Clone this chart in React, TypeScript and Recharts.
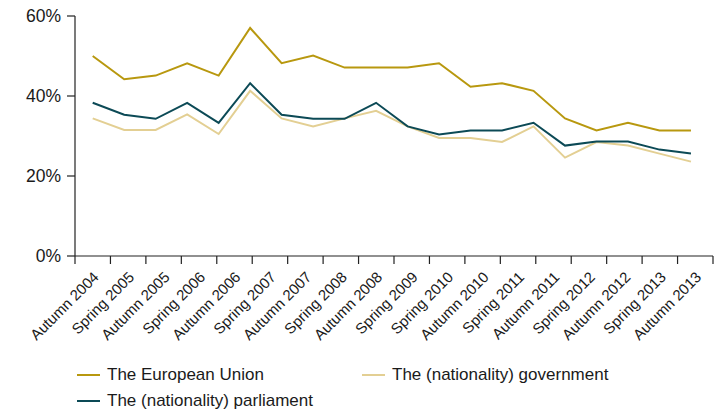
import React from "react";
import { LineChart, Line, XAxis, YAxis, Legend } from "recharts";

// survey waves shown on the axis (18 labels)
const waveLabels = [
  "Autumn 2004", "Spring 2005", "Autumn 2005", "Spring 2006", "Autumn 2006",
  "Spring 2007", "Autumn 2007", "Spring 2008", "Autumn 2008", "Spring 2009",
  "Spring 2010", "Autumn 2010", "Spring 2011", "Autumn 2011", "Spring 2012",
  "Autumn 2012", "Spring 2013", "Autumn 2013",
];

// plotted points (20 per series, as in the source chart)
const europeanUnion = [50, 44.2, 45.1, 48.2, 45.1, 57, 48.2, 50.1, 47.1, 47.1, 47.1, 48.2, 42.3, 43.2, 41.3, 34.4, 31.4, 33.3, 31.4, 31.4];
const government = [34.4, 31.5, 31.5, 35.4, 30.5, 41.3, 34.4, 32.4, 34.4, 36.3, 32.4, 29.5, 29.5, 28.5, 32.4, 24.6, 28.5, 27.6, 25.6, 23.6];
const parliament = [38.3, 35.3, 34.3, 38.3, 33.3, 43.2, 35.3, 34.3, 34.3, 38.3, 32.4, 30.4, 31.4, 31.4, 33.3, 27.6, 28.6, 28.6, 26.6, 25.6];

const yTicks = [0, 20, 40, 60];

const series = [
  { key: "eu", name: "The European Union", color: "#b8980f" },
  { key: "gov", name: "The (nationality) government", color: "#e3cf93" },
  { key: "parl", name: "The (nationality) parliament", color: "#0c4a56" },
];

const data = europeanUnion.map((v, i) => ({
  i,
  eu: v,
  gov: government[i],
  parl: parliament[i],
}));

const WIDTH = 718;
const HEIGHT = 412;
const MARGIN = { top: 16, right: 5, bottom: 6, left: 0 };
const Y_AXIS_W = 75;
const PLOT_W = WIDTH - MARGIN.left - MARGIN.right - Y_AXIS_W;
const BAND = PLOT_W / waveLabels.length;

// the points do not line up with the label bands in the original
const X_LO = -0.562;
const X_HI = 19.7;
const STEP = (X_HI - X_LO) / waveLabels.length;
const boundaryTicks = Array.from({ length: waveLabels.length + 1 }, (_, k) => X_LO + k * STEP);

const FONT = '"Liberation Sans", Arial, Helvetica, sans-serif';
const TEXT = "#1a1a1a";
const AXIS = "#222";

function WaveTick(props: any) {
  const { x, y, payload } = props;
  const k = Math.round((payload.value - X_LO) / STEP);
  if (k >= waveLabels.length) return <g />;
  const tx = x + BAND / 2 + 7;
  const ty = y + 12;
  return (
    <text
      x={tx}
      y={ty}
      textAnchor="end"
      fontSize={15}
      fontFamily={FONT}
      fill={TEXT}
      transform={`rotate(-45, ${tx}, ${ty})`}
    >
      {waveLabels[k]}
    </text>
  );
}

function LegendBox() {
  return (
    <div
      style={{
        display: "grid",
        gridTemplateColumns: "285px 285px",
        fontFamily: FONT,
        fontSize: 17,
        color: TEXT,
      }}
    >
      {series.map((s) => (
        <div key={s.key} style={{ display: "flex", alignItems: "center", height: 26 }}>
          <span style={{ width: 23, height: 2, background: s.color, marginRight: 7 }} />
          <span>{s.name}</span>
        </div>
      ))}
    </div>
  );
}

export default function App() {
  return (
    <div style={{ position: "absolute", left: 0, top: 0, width: WIDTH, height: HEIGHT, background: "#fff" }}>
      <LineChart width={WIDTH} height={HEIGHT} data={data} margin={MARGIN}>
        <XAxis
          type="number"
          dataKey="i"
          domain={[X_LO, X_HI]}
          ticks={boundaryTicks}
          interval={0}
          allowDataOverflow
          tickSize={8}
          height={150}
          axisLine={{ stroke: AXIS, strokeWidth: 1.2 }}
          tickLine={{ stroke: AXIS, strokeWidth: 1.2 }}
          tick={<WaveTick />}
        />
        <YAxis
          type="number"
          domain={[0, 60]}
          ticks={yTicks}
          interval={0}
          width={Y_AXIS_W}
          tickSize={8}
          tickMargin={6}
          tickFormatter={(v: number) => `${v}%`}
          axisLine={{ stroke: AXIS, strokeWidth: 1.2 }}
          tickLine={{ stroke: AXIS, strokeWidth: 1.2 }}
          tick={{ fill: TEXT, fontSize: 17.5, fontFamily: FONT }}
        />
        <Legend
          layout="horizontal"
          verticalAlign="middle"
          align="center"
          wrapperStyle={{ left: 77, top: 362, width: 600 }}
          content={<LegendBox />}
        />
        {series.map((s) => (
          <Line
            key={s.key}
            type="linear"
            dataKey={s.key}
            name={s.name}
            stroke={s.color}
            strokeWidth={2}
            dot={false}
            activeDot={false}
            isAnimationActive={false}
          />
        ))}
      </LineChart>
    </div>
  );
}
